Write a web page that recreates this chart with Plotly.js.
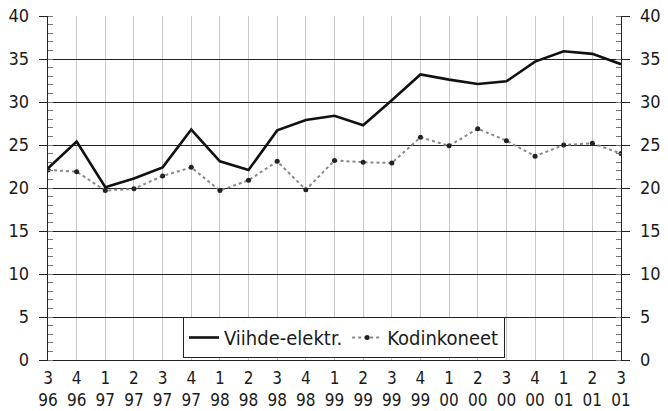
<!DOCTYPE html>
<html>
<head>
<meta charset="utf-8">
<script src="https://cdn.plot.ly/plotly-3.0.1.min.js"></script>
<style>
html,body{margin:0;padding:0;background:#fff;}
#chart{width:668px;height:411px;}
</style>
</head>
<body>
<div id="chart"></div>
<script>
const quarters = ["3","4","1","2","3","4","1","2","3","4","1","2","3","4","1","2","3","4","1","2","3"];
const years    = ["96","96","97","97","97","97","98","98","98","98","99","99","99","99","00","00","00","00","01","01","01"];
const viihde   = [22.3,25.4,20.1,21.1,22.4,26.8,23.1,22.1,26.7,27.9,28.4,27.3,30.2,33.2,32.6,32.1,32.4,34.7,35.9,35.6,34.4];
const kodin    = [22.1,21.9,19.7,19.9,21.4,22.4,19.7,20.9,23.1,19.8,23.2,23.0,22.9,25.9,24.9,26.9,25.5,23.7,25.0,25.2,24.0];
const yTicks   = [0,5,10,15,20,25,30,35,40];

const cats = quarters.map((q,i) => q + "<br>" + years[i]);
const FONT = "'Liberation Sans Narrow','Arial Narrow','DejaVu Sans Condensed',sans-serif";

const traces = [
  {x: cats, y: viihde, name: "Viihde-elektr.", type: "scatter", mode: "lines",
   line: {color: "#111", width: 2.6}},
  {x: cats, y: kodin, name: "Kodinkoneet", type: "scatter", mode: "lines+markers",
   line: {color: "#888", width: 2, dash: "dot"},
   marker: {color: "#222", size: 5, symbol: "circle"}},
  {x: cats, y: viihde, yaxis: "y2", type: "scatter", mode: "lines",
   line: {width: 0}, opacity: 0, showlegend: false, hoverinfo: "skip"}
];

const yCommon = {
  range: [0, 40], tickvals: yTicks, ticktext: yTicks.map(String),
  ticks: "outside", ticklen: 8, tickcolor: "#222", tickwidth: 1,
  ticklabelstandoff: 6,
  showline: true, linecolor: "#222", linewidth: 1.3,
  zeroline: false, fixedrange: true,
  tickfont: {family: FONT, size: 18, color: "#1a1a1a"},
  minor: {dtick: 1, ticks: "inside", ticklen: 5, tickcolor: "#777", showgrid: false}
};

const layout = {
  width: 668, height: 411,
  margin: {l: 48, r: 47, t: 16, b: 51},
  paper_bgcolor: "#fff", plot_bgcolor: "#fff",
  showlegend: true,
  legend: {orientation: "h", x: 0.2356, y: 0.125, xanchor: "left", yanchor: "top",
    bordercolor: "#222", borderwidth: 1, bgcolor: "#fff",
    font: {family: FONT, size: 20, color: "#1a1a1a"}, itemwidth: 30, tracegroupgap: 0},
  xaxis: {
    type: "category", range: [0, 20], showgrid: true, gridcolor: "#c8c8c8", gridwidth: 1,
    ticks: "", showline: true, linecolor: "#222", linewidth: 1.3,
    ticklabelstandoff: 2,
    tickfont: {family: FONT, size: 17, color: "#1a1a1a"}, fixedrange: true
  },
  yaxis: Object.assign({}, yCommon, {side: "left", showgrid: true, gridcolor: "#222", gridwidth: 1}),
  yaxis2: Object.assign({}, yCommon, {side: "right", overlaying: "y", showgrid: false})
};

Plotly.newPlot("chart", traces, layout, {staticPlot: true, displayModeBar: false});
</script>
</body>
</html>
